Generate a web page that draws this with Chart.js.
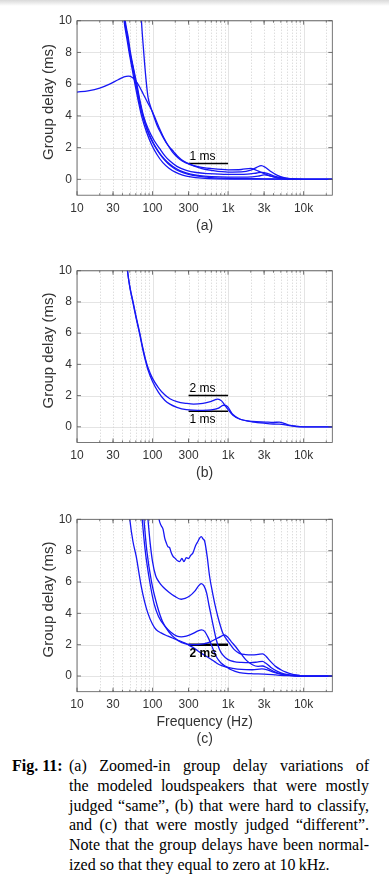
<!DOCTYPE html>
<html>
<head>
<meta charset="utf-8">
<script src="https://cdn.jsdelivr.net/npm/chart.js@4.4.0/dist/chart.umd.min.js"></script>
<style>
  body { margin: 0; width: 389px; height: 876px; background: #fff; position: relative; overflow: hidden; }
  .shade { position: absolute; left: 0; top: 0; width: 389px; height: 6px; background: linear-gradient(#d9d9d9, rgba(255,255,255,0)); }
  canvas { position: absolute; left: 0; }
  .caption { position: absolute; left: 12px; top: 756px; width: 357px; font-family: "Liberation Serif", "Times New Roman", serif; font-size: 16px; line-height: 19.8px; color: #000; }
  .caption b { position: absolute; left: 0; top: 0; }
  .caption .body { margin-left: 57px; width: 300px; }
  .caption .ln { text-align: justify; text-align-last: justify; }
  .caption .ln.last { text-align: left; text-align-last: left; }
</style>
</head>
<body>
<div class="shade"></div>
<canvas id="chartA" width="389" height="240" style="top:0px"></canvas>
<canvas id="chartB" width="389" height="240" style="top:250px"></canvas>
<canvas id="chartC" width="389" height="250" style="top:500px"></canvas>
<div class="caption">
  <b>Fig. 11:</b>
  <div class="body">
    <div class="ln">(a) Zoomed-in group delay variations of</div>
    <div class="ln">the modeled loudspeakers that were mostly</div>
    <div class="ln">judged “same”, (b) that were hard to classify,</div>
    <div class="ln">and (c) that were mostly judged “different”.</div>
    <div class="ln">Note that the group delays have been normal-</div>
    <div class="ln last">ized so that they equal to zero at 10&#8201;kHz.</div>
  </div>
</div>
<script>
// axis ticks
const xTickValues = [10, 30, 100, 300, 1000, 3000, 10000];
const xTickLabels = ['10', '30', '100', '300', '1k', '3k', '10k'];
const xDecades = [10, 100, 1000, 10000];
const xMinor = [20, 30, 40, 50, 60, 70, 80, 90, 200, 300, 400, 500, 600, 700, 800, 900,
  2000, 3000, 4000, 5000, 6000, 7000, 8000, 9000, 20000];
const yTickValues = [0, 2, 4, 6, 8, 10];
const yTitle = 'Group delay (ms)';

// (a) mostly judged "same"  -- [Hz, ms]
const curveA1 = [[10,5.5],[14,5.58],[20,5.75],[27,6.0],[35,6.28],[42,6.46],[48,6.5],[54,6.42],[60,6.2],[67,5.85],[75,5.4],[87,4.8],[100,4.25],[112,3.7],[125,3.15],[140,2.65],[160,2.15],[185,1.7],[215,1.38],[250,1.15],[300,0.97],[400,0.8],[600,0.68],[1000,0.6],[1500,0.62],[2000,0.69],[2300,0.6],[2800,0.42],[3500,0.24],[4500,0.1],[6000,0.03],[10000,0],[24000,0]];
const curveA2 = [[67,12.5],[71.3,10],[76.5,8],[82,6.3],[87,5.2],[94,4.6],[101,4.15],[115,3.4],[131,2.85],[150,2.35],[169,2.02],[190,1.75],[210,1.5],[240,1.25],[280,1.05],[350,0.85],[450,0.68],[600,0.57],[1000,0.46],[1500,0.47],[2000,0.58],[2400,0.76],[2750,0.86],[3100,0.76],[3600,0.52],[4500,0.25],[5500,0.1],[7000,0.03],[10000,0],[24000,0]];
const curveA3 = [[40,12],[43.5,10],[47.5,9],[51,8],[56,7],[62,6],[68,5],[76,4],[88,3.15],[105,2.45],[124,1.95],[145,1.5],[170,1.15],[210,0.82],[280,0.57],[380,0.43],[550,0.36],[1000,0.31],[1800,0.33],[2400,0.4],[2800,0.44],[3300,0.38],[4000,0.22],[5000,0.1],[6500,0.03],[10000,0],[24000,0]];
const curveA4 = [[39,12],[42.5,10],[46.5,9],[50,8],[55.5,7],[61,6],[67,5],[75,4],[86,3.1],[102,2.3],[120,1.75],[142,1.3],[170,0.95],[205,0.68],[250,0.48],[320,0.33],[420,0.23],[600,0.17],[1000,0.14],[1800,0.14],[2500,0.2],[3000,0.28],[3500,0.24],[4500,0.1],[6000,0.03],[10000,0],[24000,0]];
const curveA5 = [[39.5,12],[43,10],[47,8.9],[50,8],[55,7],[60,6],[66,5],[74,4],[85,3.1],[100,2.35],[115,1.85],[135,1.38],[160,1.0],[190,0.72],[230,0.5],[300,0.32],[400,0.2],[600,0.11],[1000,0.06],[2000,0.04],[3000,0.03],[5000,0.01],[10000,0],[24000,0]];
const curveA6 = [[38.5,12],[42,10],[46,8.8],[49,8],[54,6.9],[59,5.9],[65,4.9],[72,3.95],[83,3.0],[97,2.2],[115,1.55],[137,1.05],[165,0.7],[200,0.45],[250,0.27],[320,0.15],[450,0.07],[700,0.03],[1500,0.02],[4000,0.015],[10000,0],[24000,0]];

// (b) hard to classify
const curveB1 = [[44,11.3],[46.6,10],[50,9.0],[55.3,8],[61,7],[67.8,6],[74,5.1],[81,4.3],[87,3.8],[100,3.1],[120,2.5],[145,2.05],[170,1.8],[210,1.62],[280,1.5],[350,1.45],[465,1.5],[600,1.63],[730,1.77],[820,1.66],[950,1.25],[1150,0.75],[1420,0.5],[2100,0.34],[3150,0.3],[4000,0.28],[4760,0.3],[5500,0.22],[6440,0.1],[8000,0.03],[10000,0],[24000,0]];
const curveB2 = [[44,11.3],[46.6,10],[50,8.95],[55.3,7.9],[61,6.9],[67.8,5.9],[74,5.0],[81,4.2],[87,3.65],[100,2.9],[120,2.2],[145,1.7],[170,1.45],[210,1.25],[280,1.1],[465,1.05],[600,1.08],[750,1.2],[870,1.38],[980,1.3],[1150,0.8],[1420,0.5],[2100,0.32],[3150,0.22],[4000,0.18],[4760,0.17],[5500,0.14],[6440,0.08],[8000,0.02],[10000,0],[24000,0]];

// (c) mostly judged "different"
const curveC1 = [[115,11],[122,10],[130,9.6],[138,9.36],[145,8.8],[152,8.5],[160,8.25],[168,8.2],[176,7.9],[186,7.65],[200,7.5],[215,7.35],[228,7.3],[245,7.5],[260,7.3],[280,7.55],[300,7.5],[320,7.7],[343,7.86],[370,8.3],[400,8.6],[420,8.8],[442,8.9],[465,8.75],[490,8.6],[530,7.6],[568,6.4],[630,5.2],[697,4.2],[770,3.4],[851,2.75],[950,2.35],[1040,2.1],[1200,1.7],[1413,1.45],[1700,1.37],[2100,1.35],[2500,1.38],[2870,1.41],[3200,1.25],[3500,1.03],[4300,0.6],[5000,0.4],[5840,0.25],[7000,0.12],[8600,0.05],[10000,0],[24000,0]];
const curveC2 = [[82,11.5],[87,10],[93,8.5],[100,7.3],[110,6.4],[124,5.95],[140,5.65],[165,5.35],[195,5.1],[240,4.9],[270,4.95],[310,5.1],[360,5.4],[400,5.7],[442,5.9],[480,5.75],[520,5.3],[560,4.5],[600,3.8],[650,3.0],[700,2.3],[770,1.7],[850,1.35],[1000,1.05],[1200,0.92],[1500,0.87],[2000,0.85],[2500,0.9],[2850,0.93],[3200,0.8],[3700,0.55],[4500,0.3],[5500,0.13],[7000,0.05],[10000,0],[24000,0]];
const curveC3 = [[69,11.5],[73,10],[80,8],[92,6],[105,4.6],[120,3.8],[145,3.2],[175,2.8],[210,2.55],[240,2.5],[280,2.55],[340,2.7],[400,2.88],[445,2.95],[490,2.85],[540,2.5],[600,2.0],[700,1.23],[800,0.85],[944,0.6],[1100,0.4],[1413,0.22],[2000,0.15],[3000,0.12],[4500,0.06],[6000,0.02],[10000,0],[24000,0]];
const curveC4 = [[47,11.5],[50,10],[55,8.6],[61,7.6],[66,6.6],[71,5.7],[78,4.8],[87,4.0],[100,3.3],[112,2.95],[130,2.75],[150,2.6],[170,2.5],[200,2.35],[228,2.25],[270,2.1],[306,1.95],[350,1.8],[400,1.6],[480,1.35],[568,1.13],[670,0.9],[770,0.72],[950,0.57],[1150,0.49],[1500,0.42],[2100,0.4],[2800,0.45],[3300,0.4],[4000,0.25],[5000,0.12],[6500,0.04],[10000,0],[24000,0]];
const curveC5 = [[73,11.5],[77,10],[84,8],[97,6],[115,4.5],[135,3.5],[165,2.8],[200,2.4],[240,2.15],[300,2.02],[380,2.0],[470,2.05],[560,2.15],[650,2.3],[750,2.45],[897,2.62],[980,2.5],[1100,2.2],[1270,1.85],[1500,1.4],[1750,1.0],[2100,0.72],[2500,0.62],[2850,0.64],[3300,0.52],[4000,0.3],[5000,0.13],[6500,0.04],[10000,0],[24000,0]];

// reference bars: [from Hz, to Hz, ms, label, label side]
const barsA = [[300, 1000, 1, '1 ms', 'above']];
const barsB = [[300, 1000, 2, '2 ms', 'above'], [300, 1000, 1, '1 ms', 'below']];
const barsC = [[300, 1000, 2, '2 ms', 'below']];

Chart.defaults.font.family = '"Liberation Sans", Arial, sans-serif';
Chart.defaults.color = '#333';

const matlabAxes = {
  id: 'matlabAxes',
  beforeDatasetsDraw(chart) {
    const {ctx, chartArea: a, scales: {x, y}} = chart;
    ctx.save();
    ctx.lineWidth = 1;
    ctx.strokeStyle = '#e4e4e4';
    yTickValues.forEach(v => {
      const py = Math.round(y.getPixelForValue(v)) + 0.5;
      ctx.beginPath(); ctx.moveTo(a.left, py); ctx.lineTo(a.right, py); ctx.stroke();
    });
    xDecades.forEach(v => {
      const px = Math.round(x.getPixelForValue(v)) + 0.5;
      ctx.beginPath(); ctx.moveTo(px, a.top); ctx.lineTo(px, a.bottom); ctx.stroke();
    });
    ctx.setLineDash([1, 2]);
    ctx.strokeStyle = '#cfcfcf';
    xMinor.forEach(v => {
      const px = Math.round(x.getPixelForValue(v)) + 0.5;
      ctx.beginPath(); ctx.moveTo(px, a.top); ctx.lineTo(px, a.bottom); ctx.stroke();
    });
    ctx.restore();
  },
  afterDatasetsDraw(chart, args, opts) {
    const {ctx, chartArea: a, scales: {x, y}} = chart;
    ctx.save();
    ctx.strokeStyle = '#555';
    ctx.lineWidth = 0.8;
    ctx.strokeRect(a.left, a.top, a.right - a.left, a.bottom - a.top);
    ctx.beginPath();
    xTickValues.forEach(v => {
      const px = x.getPixelForValue(v);
      ctx.moveTo(px, a.bottom); ctx.lineTo(px, a.bottom - 4);
      ctx.moveTo(px, a.top); ctx.lineTo(px, a.top + 4);
    });
    xMinor.forEach(v => {
      const px = x.getPixelForValue(v);
      ctx.moveTo(px, a.bottom); ctx.lineTo(px, a.bottom - 2);
      ctx.moveTo(px, a.top); ctx.lineTo(px, a.top + 2);
    });
    yTickValues.forEach(v => {
      const py = y.getPixelForValue(v);
      ctx.moveTo(a.left, py); ctx.lineTo(a.left + 4, py);
      ctx.moveTo(a.right, py); ctx.lineTo(a.right - 4, py);
    });
    ctx.stroke();

    // bar labels
    ctx.fillStyle = '#000';
    ctx.font = (opts.bold ? 'bold ' : '') + '12px "Liberation Sans", Arial, sans-serif';
    ctx.textAlign = 'left';
    (opts.bars || []).forEach(b => {
      const px = x.getPixelForValue(b[0]);
      const py = y.getPixelForValue(b[2]);
      if (b[4] === 'above') { ctx.textBaseline = 'bottom'; ctx.fillText(b[3], px + 1, py - 1); }
      else { ctx.textBaseline = 'top'; ctx.fillText(b[3], px + 1, py + 3); }
    });

    // y axis title, sitting a little above the centre like the original
    ctx.fillStyle = '#333';
    ctx.font = '15px "Liberation Sans", Arial, sans-serif';
    ctx.textAlign = 'center';
    ctx.textBaseline = 'middle';
    ctx.translate(49, (a.top + a.bottom) / 2 - 6);
    ctx.rotate(-Math.PI / 2);
    ctx.fillText(yTitle, 0, 0);
    ctx.restore();
  }
};

function makePanel(id, curves, bars, o) {
  const datasets = curves.map(c => ({
    data: c.map(p => ({x: p[0], y: p[1]})),
    borderColor: '#1717f5',
    borderWidth: 1.3,
    pointRadius: 0,
    fill: false,
    cubicInterpolationMode: 'monotone'
  }));
  bars.forEach(b => datasets.push({
    data: [{x: b[0], y: b[2]}, {x: b[1], y: b[2]}],
    borderColor: '#000',
    borderWidth: o.barWidth,
    pointRadius: 0,
    fill: false
  }));
  return new Chart(document.getElementById(id), {
    type: 'line',
    data: {datasets},
    options: {
      responsive: false,
      animation: false,
      layout: {padding: {left: 0, top: o.top, right: 389 - 332.3, bottom: 0}},
      plugins: {legend: {display: false}, tooltip: {enabled: false}, matlabAxes: {bars, bold: o.bold}},
      scales: {
        x: {
          type: 'logarithmic',
          min: 10, max: 24000,
          grid: {display: false, drawTicks: false},
          border: {display: false},
          afterBuildTicks: s => { s.ticks = xTickValues.map(v => ({value: v})); },
          afterFit: s => { s.height = o.height - o.bottom; },
          ticks: {autoSkip: false, maxRotation: 0, minRotation: 0, padding: 6,
            font: {size: 12}, color: '#333',
            callback: v => xTickLabels[xTickValues.indexOf(v)]},
          title: {display: true, text: o.xTitle, color: '#333',
            font: {size: 14, lineHeight: 1.236}, padding: {top: 0, bottom: o.titlePad}}
        },
        y: {
          min: -1, max: 10,
          grid: {display: false, drawTicks: false},
          border: {display: false},
          afterBuildTicks: s => { s.ticks = yTickValues.map(v => ({value: v})); },
          afterFit: s => { s.width = 77; },
          ticks: {padding: 5, crossAlign: 'near', font: {size: 12}, color: '#333', callback: v => String(v)}
        }
      }
    },
    plugins: [matlabAxes]
  });
}

makePanel('chartA', [curveA1, curveA2, curveA3, curveA4, curveA5, curveA6], barsA,
  {top: 20.7, bottom: 195.2, height: 240, xTitle: '(a)', titlePad: 5.6, barWidth: 1.5, bold: false});
makePanel('chartB', [curveB1, curveB2], barsB,
  {top: 20.7, bottom: 192.4, height: 240, xTitle: '(b)', titlePad: 8.6, barWidth: 1.5, bold: false});
makePanel('chartC', [curveC1, curveC2, curveC3, curveC4, curveC5], barsC,
  {top: 19.3, bottom: 191.7, height: 250, xTitle: ['Frequency (Hz)', '(c)'], titlePad: 2.4, barWidth: 2.5, bold: true});
</script>
</body>
</html>
